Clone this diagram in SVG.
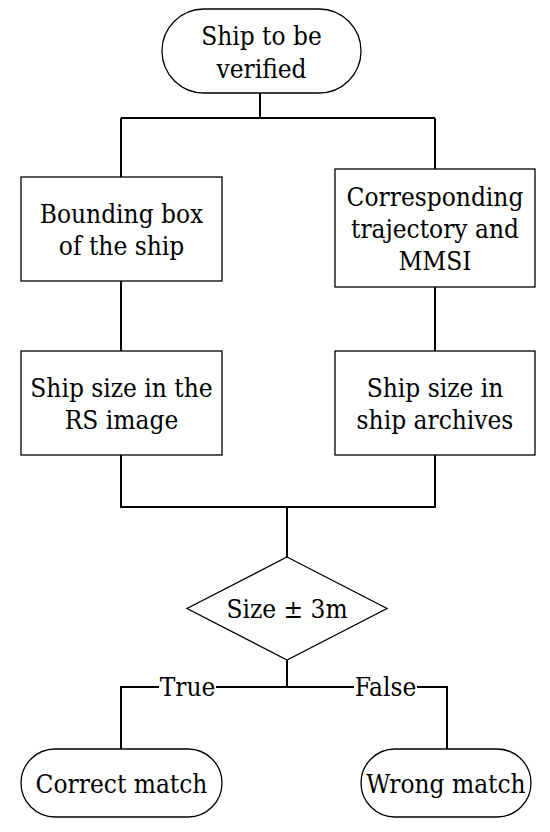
<svg xmlns="http://www.w3.org/2000/svg" width="550" height="832" viewBox="0 0 550 832">
<style>
.shape{fill:#fff;stroke:#000;stroke-width:1.3}
.conn{fill:none;stroke:#000;stroke-width:2}
text{font-family:"DejaVu Serif Condensed","DejaVu Serif",serif;font-stretch:semi-condensed;font-size:26px;fill:#000;text-anchor:middle}
.lbl{fill:#fff;stroke:none}
</style>
<rect width="550" height="832" fill="#fff"/>
<g id="connectors">
<path class="conn" d="M260 93V118M121 118H435M121 118V177M435 118V169M121 281V351M435 287V351M121 455V507H435V455M287 507V557M287 660V687M121 749V687H447V749"/>
</g>
<g id="start">
<rect class="shape" x="162" y="9" width="199" height="84" rx="42"/>
<text x="261.5" y="45">Ship to be</text>
<text x="261.5" y="78">verified</text>
</g>
<g id="bbox">
<rect class="shape" x="21" y="177" width="201" height="104"/>
<text x="121.5" y="223">Bounding box</text>
<text x="121.5" y="255">of the ship</text>
</g>
<g id="traj">
<rect class="shape" x="335" y="169" width="200" height="118"/>
<text x="435" y="206">Corresponding</text>
<text x="435" y="238">trajectory and</text>
<text x="435" y="270">MMSI</text>
</g>
<g id="size-rs">
<rect class="shape" x="21" y="351" width="201" height="104"/>
<text x="121.5" y="397">Ship size in the</text>
<text x="121.5" y="429">RS image</text>
</g>
<g id="size-arch">
<rect class="shape" x="335" y="351" width="200" height="104"/>
<text x="435" y="397">Ship size in</text>
<text x="435" y="429">ship archives</text>
</g>
<g id="decision">
<polygon class="shape" points="287,557 387,608.5 287,660 187,608.5"/>
<text x="287" y="618">Size ± 3m</text>
</g>
<g id="label-true">
<rect class="lbl" x="159" y="674" width="57" height="26"/>
<text x="187.5" y="696">True</text>
</g>
<g id="label-false">
<rect class="lbl" x="354" y="674" width="63" height="26"/>
<text x="385.5" y="696">False</text>
</g>
<g id="correct">
<rect class="shape" x="21" y="749" width="201" height="68" rx="34"/>
<text x="121.5" y="793">Correct match</text>
</g>
<g id="wrong">
<rect class="shape" x="361" y="749" width="170" height="68" rx="34"/>
<text x="446" y="793">Wrong match</text>
</g>
</svg>
